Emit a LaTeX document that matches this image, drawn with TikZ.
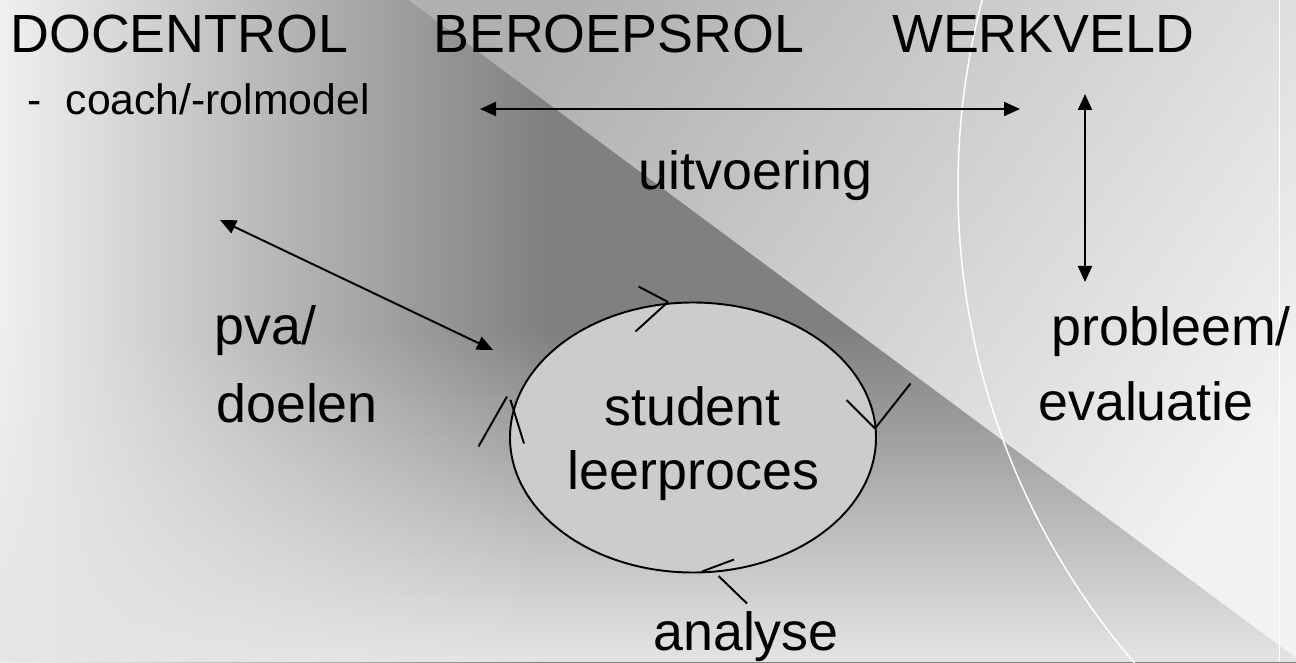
\documentclass[tikz,border=0pt]{standalone}
\usepackage{fontspec}
\setmainfont{Liberation Sans}
\usetikzlibrary{arrows.meta,shapes.geometric}

\begin{document}
\begin{tikzpicture}[
		font=\fontsize{30.6}{36}\selectfont,
		every node/.style={inner sep=0pt},
		small/.style={font=\fontsize{24.3}{29}\selectfont},
		twoway/.style={line width=1.1pt, {Triangle[length=0.32cm,width=0.28cm]}-{Triangle[length=0.32cm,width=0.28cm]}},
		tick/.style={line width=1.1pt},
	]
	% background
	\useasboundingbox (0,0) rectangle (25.92,13.24);
	\shade[left color=black!6, right color=black!50] (0,-0.2) rectangle (11,13.44);
	\fill[black!50] (11,-0.2) rectangle (26.1,13.44);
	% lighter towards the bottom
	\foreach \i [evaluate=\i as \op using 1-(\i+0.5)/50] in {0,...,49} {
			\fill[black!10, opacity=\op] (-0.1,{6.64*\i/50}) rectangle (26.1,{6.64*(\i+1)/50});
		}
	\shade[top color=black!31, bottom color=black!5, shading angle=54] (7.9,13.44) -- (26.1,13.44) -- (26.1,-0.05) -- cycle;
	\begin{scope}
		\clip (0,0) rectangle (25.92,13.24);
		\draw[white, line width=0.85pt] (33.76,9.5) circle (14.6);
	\end{scope}
	\draw[white, line width=0.5pt] (25.58,0) -- (25.58,13.24);

	% roles
	\node[anchor=base west] (docent) at (0.2,12.18) {DOCENTROL};
	\node[anchor=base west] (beroep) at (8.66,12.18) {BEROEPSROL};
	\node[anchor=base west] (werkveld) at (17.84,12.18) {WERKVELD};
	\node[small, anchor=base west] (coach) at (0.54,10.94) {-\hspace{0.484cm}coach/-rolmodel};

	% cycle labels
	\node[anchor=base west] (uitv) at (12.77,9.44) {uitvoering};
	\node[anchor=base west] (pva) at (4.29,6.36) {pva/};
	\node[anchor=base west] (doelen) at (4.32,4.8) {doelen};
	\node[anchor=base west] (probleem) at (21.03,6.34) {probleem/};
	\node[anchor=base west] (evaluatie) at (20.76,4.84) {evaluatie};
	\node[anchor=base] (analyse) at (14.92,0.24) {analyse};

	\node[draw, ellipse, line width=1.1pt, fill=black!20, minimum width=7.32cm, minimum height=5.4cm] (cycle) at (13.86,4.49) {};
	\node[anchor=base] (student) at (13.85,4.74) {student};
	\node[anchor=base] (leer) at (13.87,3.46) {leerproces};

	% arrows
	\coordinate (hl) at (9.6,11.06);
	\coordinate (hr) at (20.4,11.06);
	\coordinate (vt) at (21.7,11.36);
	\coordinate (vb) at (21.7,7.6);
	\coordinate (dl) at (4.4,8.84);
	\coordinate (dr) at (9.86,6.24);
	\draw[twoway] (hl) -- (hr);
	\draw[twoway] (vt) -- (vb);
	\draw[twoway] (dl) -- (dr);

	% direction marks on the cycle
	\foreach \xa/\ya/\xb/\yb in {12.77/7.51/13.36/7.2, 13.36/7.2/12.71/6.61,
			16.93/5.24/17.5/4.67, 17.5/4.67/18.21/5.57,
			14.68/2.05/14.04/1.81, 14.37/1.72/14.94/1.17,
			10.14/5.31/9.57/4.31, 10.21/5.24/10.48/4.37} {
			\draw[tick] (\xa,\ya) -- (\xb,\yb);
		}
\end{tikzpicture}
\end{document}
